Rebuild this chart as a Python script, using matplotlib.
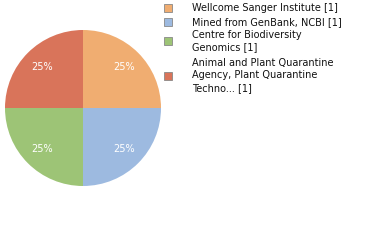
import matplotlib.pyplot as plt
from matplotlib.patches import Rectangle

labels = ['Wellcome Sanger Institute [1]',
          'Mined from GenBank, NCBI [1]',
          'Centre for Biodiversity\nGenomics [1]',
          'Animal and Plant Quarantine\nAgency, Plant Quarantine\nTechno... [1]']
counts = [1, 1, 1, 1]
colors = ['#F0AD71', '#9DBAE0', '#9DC476', '#D9745A']

W, H = 380, 240
fig = plt.figure(figsize=(W / 100, H / 100), dpi=100)

# pie: centre (83,108), radius 78 px
r = 78
ax = fig.add_axes([(83 - r) / W, (H - 108 - r) / H, 2 * r / W, 2 * r / H])
ax.pie(counts, colors=colors, startangle=90, counterclock=False,
       autopct='%d%%', pctdistance=0.74, radius=1,
       textprops=dict(color='white', fontsize=7, family='DejaVu Sans'),
       wedgeprops=dict(linewidth=0))
ax.set_xlim(-1, 1)
ax.set_ylim(-1, 1)
ax.set_aspect('equal')

# legend
first_line_y = [8, 22, 35, 63]
line_h = 12.5
for lab, col, y in zip(labels, colors, first_line_y):
    n = lab.count('\n') + 1
    mid = y + (n - 1) * line_h / 2
    fig.patches.append(Rectangle((164 / W, 1 - (mid + 4) / H), 8 / W, 8 / H,
                                 transform=fig.transFigure, facecolor=col,
                                 edgecolor='#888888', linewidth=0.6))
    for i, line in enumerate(lab.split('\n')):
        fig.text(192 / W, 1 - (y + i * line_h) / H, line, fontsize=7,
                 va='center', ha='left', color='#111111')

fig.savefig('out.png', dpi=100)
